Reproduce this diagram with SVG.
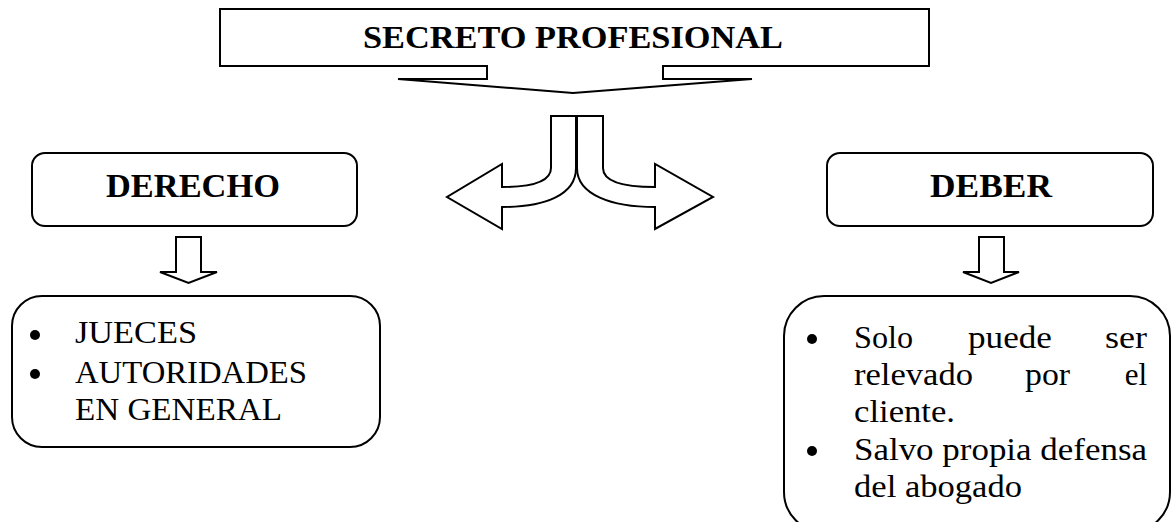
<svg xmlns="http://www.w3.org/2000/svg" width="1172" height="522" viewBox="0 0 1172 522">
<style>
.ln{fill:#fff;stroke:#000;stroke-width:2;stroke-linejoin:miter}
.hd{font-family:"Liberation Serif","Times New Roman",serif;font-weight:bold;fill:#000}
.tx{font-family:"Liberation Serif","Times New Roman",serif;font-size:31px;fill:#000}
</style>
<rect width="1172" height="522" fill="#fff"/>
<g id="title">
<path class="ln" d="M220 9 H929 V66 H663 V79 H752 L573 93 L398 79 H487 V66 H220 Z"/>
<text class="hd" x="363" y="48" font-size="31" textLength="420" lengthAdjust="spacingAndGlyphs">SECRETO PROFESIONAL</text>
</g>
<g id="connectors">
<path class="ln" d="M551 116 H576 V168 C576 195 545 207 502 207 V229 L447 197 L502 164 V187 C535 187 551 180 551 168 Z"/>
<path class="ln" d="M577 116 H603 V168 C603 180 619 187 655 187 V164 L713 197 L655 229 V207 C612 207 577 195 577 168 Z"/>
<path class="ln" d="M176 237 H201 V272 H217 L188.5 283 L160 272 H176 Z"/>
<path class="ln" d="M979 237 H1004 V272 H1019 L991 283 L963 272 H979 Z"/>
</g>
<g id="derecho">
<rect class="ln" x="32" y="153" width="325" height="73" rx="13"/>
<text class="hd" x="106" y="197" font-size="34" textLength="174" lengthAdjust="spacingAndGlyphs">DERECHO</text>
</g>
<g id="deber">
<rect class="ln" x="827" y="153" width="326" height="73" rx="13"/>
<text class="hd" x="930" y="197" font-size="34" textLength="122" lengthAdjust="spacingAndGlyphs">DEBER</text>
</g>
<g id="derecho-list">
<rect class="ln" x="12" y="296" width="368" height="151" rx="30"/>
<circle cx="35" cy="335" r="5"/>
<circle cx="35" cy="374" r="5"/>
<text class="tx" x="75" y="343" textLength="122" lengthAdjust="spacingAndGlyphs">JUECES</text>
<text class="tx" x="75" y="383" textLength="232" lengthAdjust="spacingAndGlyphs">AUTORIDADES</text>
<text class="tx" x="75" y="420" textLength="207" lengthAdjust="spacingAndGlyphs">EN GENERAL</text>
</g>
<g id="deber-list">
<rect class="ln" x="784" y="296" width="386" height="236" rx="40"/>
<circle cx="812" cy="339" r="5"/>
<circle cx="812" cy="451" r="5"/>
<text class="tx" x="854" y="348" textLength="59" lengthAdjust="spacingAndGlyphs">Solo</text>
<text class="tx" x="968" y="348" textLength="84" lengthAdjust="spacingAndGlyphs">puede</text>
<text class="tx" x="1105" y="348" textLength="42" lengthAdjust="spacingAndGlyphs">ser</text>
<text class="tx" x="854" y="385" textLength="119" lengthAdjust="spacingAndGlyphs">relevado</text>
<text class="tx" x="1025" y="385" textLength="45" lengthAdjust="spacingAndGlyphs">por</text>
<text class="tx" x="1147" y="385" text-anchor="end">el</text>
<text class="tx" x="854" y="422" textLength="101" lengthAdjust="spacingAndGlyphs">cliente.</text>
<text class="tx" x="854" y="460" textLength="293" lengthAdjust="spacingAndGlyphs">Salvo propia defensa</text>
<text class="tx" x="854" y="497" textLength="168" lengthAdjust="spacingAndGlyphs">del abogado</text>
</g>
</svg>
